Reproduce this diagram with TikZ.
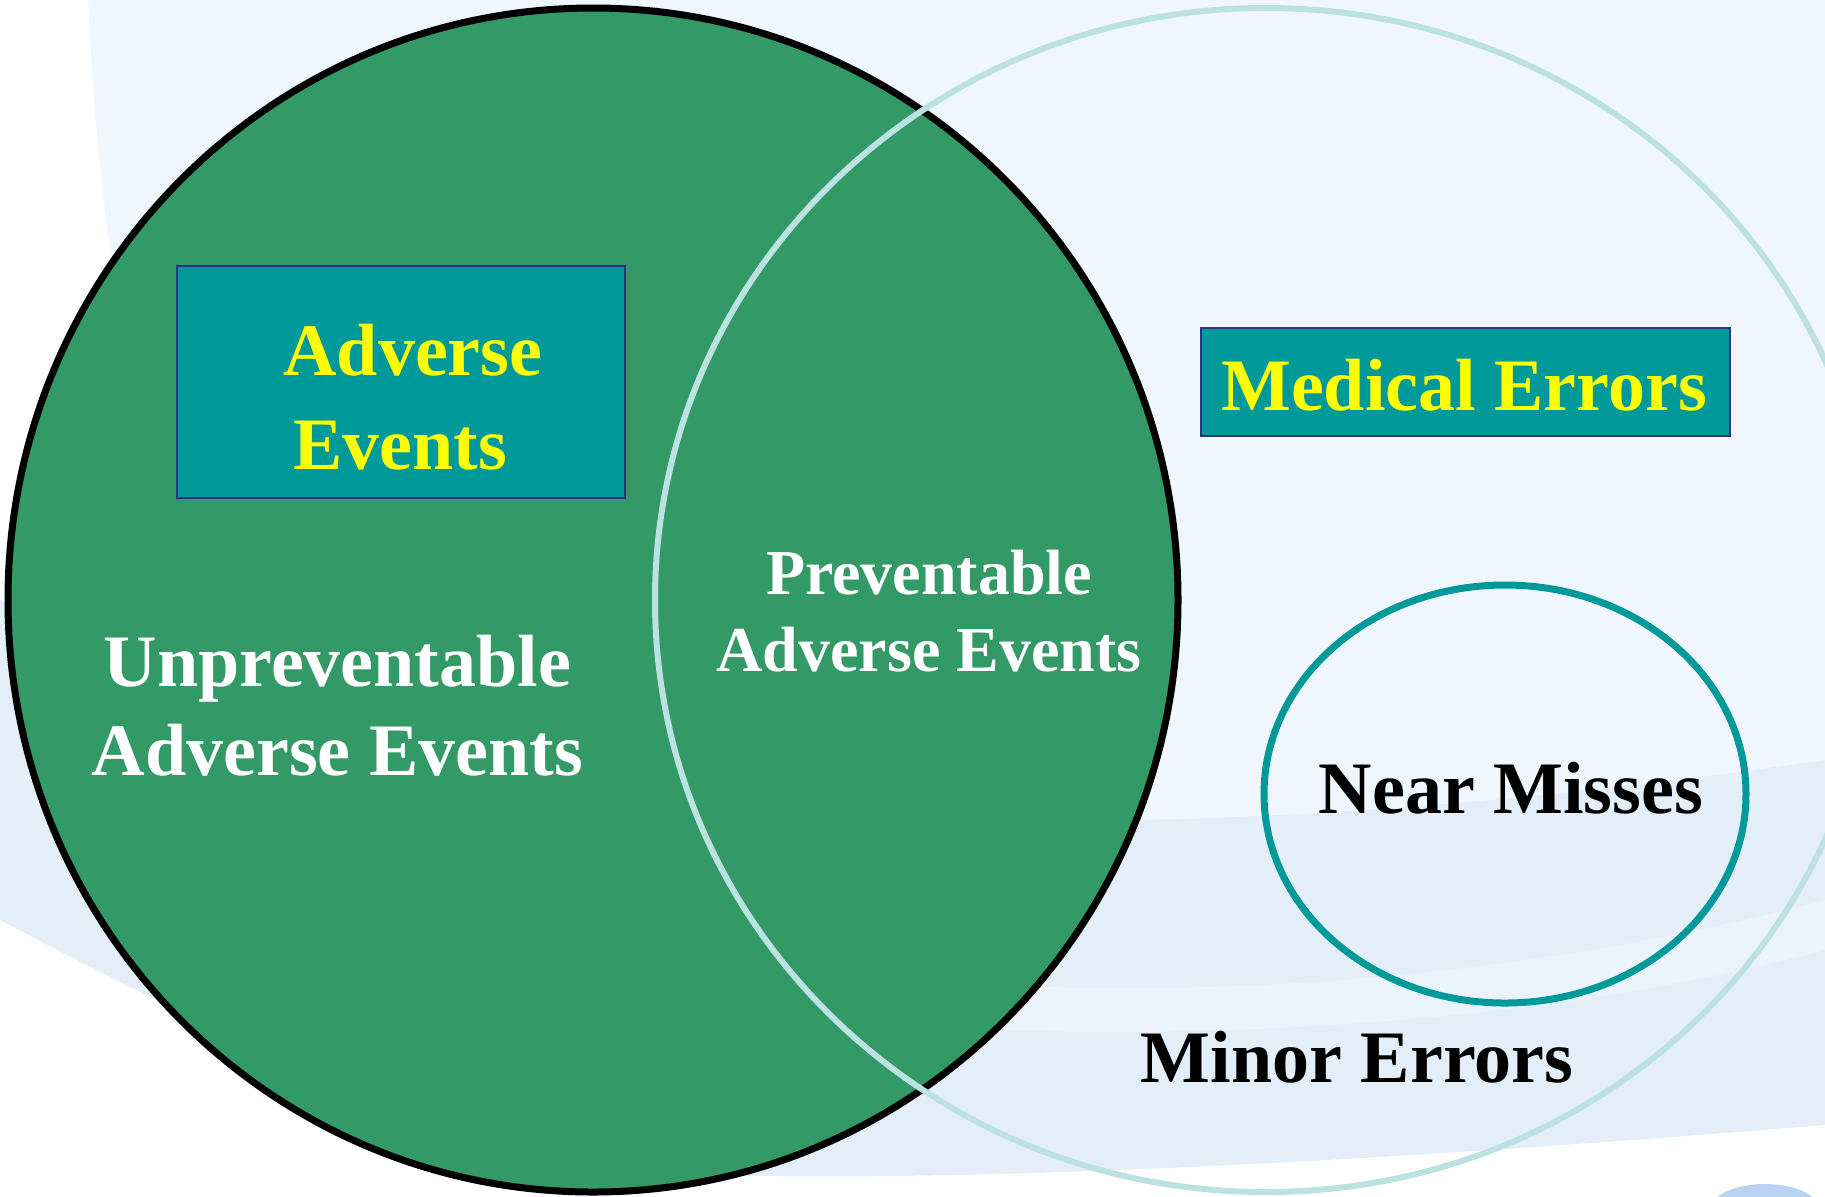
\documentclass[tikz,border=0pt]{standalone}
\usepackage{fontspec}
\setmainfont{Liberation Serif}
\usetikzlibrary{shapes.geometric}
\definecolor{bgbase}{HTML}{F0F6FD}
\definecolor{bgband}{HTML}{E3EEF9}
\definecolor{bgstreak}{HTML}{EAF3FC}
\definecolor{bgblob}{HTML}{B9D2F1}
\definecolor{aegreen}{HTML}{339966}
\definecolor{boxteal}{HTML}{009999}
\definecolor{boxedge}{HTML}{2E3184}
\definecolor{merim}{HTML}{BCE1E2}
\definecolor{txtyellow}{HTML}{FFFF00}
\begin{document}
\begin{tikzpicture}[x=0.5pt,y=-0.5pt,
  set/.style={ellipse, inner sep=0pt, outer sep=0pt},
  tagbox/.style={rectangle, fill=boxteal, draw=boxedge, line width=1pt, inner sep=0pt},
  lbl/.style={font=\bfseries\fontsize{37}{44}\selectfont, anchor=base, inner sep=0pt},
  lblsmall/.style={font=\bfseries\fontsize{32}{38}\selectfont, anchor=base, inner sep=0pt}]
\useasboundingbox (0,0) rectangle (1825,1196);

% soft background swooshes
\fill[bgbase] (0,0) rectangle (1825,1196);
\fill[white] (0,0) -- (88,0) .. controls (100,250) and (130,420) .. (200,560) -- (0,600) -- cycle;
\fill[bgband] (0,600) .. controls (400,820) and (1000,880) .. (1825,760)
  -- (1825,1125) .. controls (1400,1160) and (900,1190) .. (600,1170)
  .. controls (350,1100) and (150,1000) .. (0,920) -- cycle;
\fill[bgstreak] (1000,985) .. controls (1300,1000) and (1600,960) .. (1825,900)
  -- (1825,950) .. controls (1600,1010) and (1300,1040) .. (1000,1030) -- cycle;
\fill[white] (0,920) .. controls (150,1000) and (350,1100) .. (600,1170)
  .. controls (900,1190) and (1400,1160) .. (1825,1125) -- (1825,1196) -- (0,1196) -- cycle;
\fill[bgblob] (1765,1210) ellipse [x radius=55, y radius=26];

% the two overlapping sets
\node[set, fill=aegreen, draw=black, line width=3.5pt,
      minimum width=585pt, minimum height=592pt] (adverse) at (593,600) {};
\node[set, draw=merim, line width=3pt,
      minimum width=611pt, minimum height=592pt] (errors) at (1266,600) {};

% subset of medical errors
\node[set, draw=boxteal, line width=3.5pt,
      minimum width=241pt, minimum height=209pt] (nearmiss) at (1505,794) {};

% title boxes
\node[tagbox, minimum width=224pt, minimum height=115.75pt] (aebox) at (401,382) {};
\node[tagbox, minimum width=264.5pt, minimum height=54pt] (mebox) at (1465.5,382) {};

% labels
\node[lbl, text=txtyellow] (aetitle1) at (413,375) {Adverse};
\node[lbl, text=txtyellow] (aetitle2) at (400,469) {Events};
\node[lbl, text=txtyellow] (metitle) at (1464,410) {Medical Errors};
\node[lbl, text=white] (unprev1) at (337.5,686) {Unpreventable};
\node[lbl, text=white] (unprev2) at (337.5,775) {Adverse Events};
\node[lblsmall, text=white] (prev1) at (929,594) {Preventable};
\node[lblsmall, text=white] (prev2) at (929,671) {Adverse Events};
\node[lbl, text=black] (nmtext) at (1511,813) {Near Misses};
\node[lbl, text=black] (minor) at (1357,1082) {Minor Errors};
\end{tikzpicture}
\end{document}
